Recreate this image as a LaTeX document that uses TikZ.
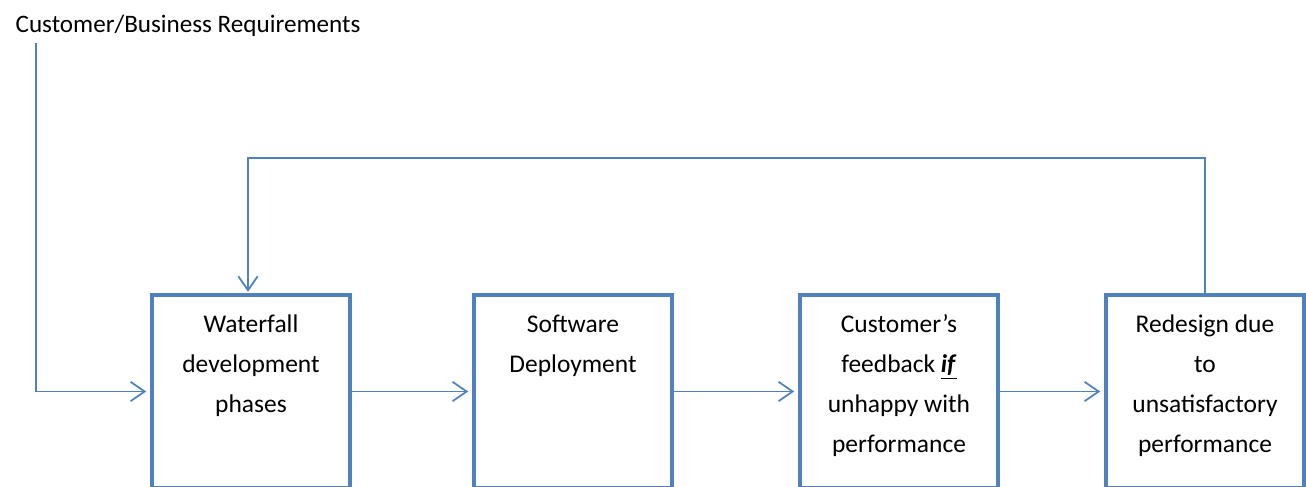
\documentclass[tikz,border=0pt]{standalone}
\usepackage{fontspec}
\setmainfont{Carlito}
\usetikzlibrary{arrows.meta}
\definecolor{4f81bd}{HTML}{4F81BD}
\tikzset{
  phase/.style={draw=4f81bd,line width=2.6pt,minimum width=3.96cm,minimum height=3.86cm,inner sep=0},
  phasetext/.style={anchor=north,align=center,inner sep=0,yshift=-0.24cm,font=\fontsize{14.5}{22.7}\selectfont},
  link/.style={draw=4f81bd,line width=1pt,->,shorten >=2pt},
}
\begin{document}
\begin{tikzpicture}[>={Straight Barb[length=8pt,width=11pt]}]
    \useasboundingbox(0,0)rectangle(26.12,-9.74);
    % requirements
    \node[anchor=base west,inner sep=3pt,font=\fontsize{14.3}{22.7}\selectfont](req)at(0.2,-0.66){Customer/Business Requirements};
    % phases
    \node[phase](b1)at(5.02,-7.83){};
    \node[phase](b2)at(11.46,-7.83){};
    \node[phase](b3)at(17.98,-7.83){};
    \node[phase](b4)at(24.10,-7.83){};
    \node[phasetext](t1)at(b1.north){\strut Waterfall\\development\\phases};
    \node[phasetext](t2)at(b2.north){\strut Software\\Deployment};
    \node[phasetext](t3)at(b3.north){\strut Customer's\\feedback \underline{\textbf{\textit{if}}}\\unhappy with\\performance};
    \node[phasetext](t4)at(b4.north){\strut Redesign due\\to\\unsatisfactory\\performance};
    % arrows
    \draw[link](req.south west)++(0.52,0)|-(b1.west);
    \draw[link](b1.east)--(b2.west);
    \draw[link](b2.east)--(b3.west);
    \draw[link](b3.east)--(b4.west);
    \draw[link,shorten >=0.5pt](b4.north)--++(0,2.7)-|([xshift=-0.06cm]b1.north);
\end{tikzpicture}
\end{document}
